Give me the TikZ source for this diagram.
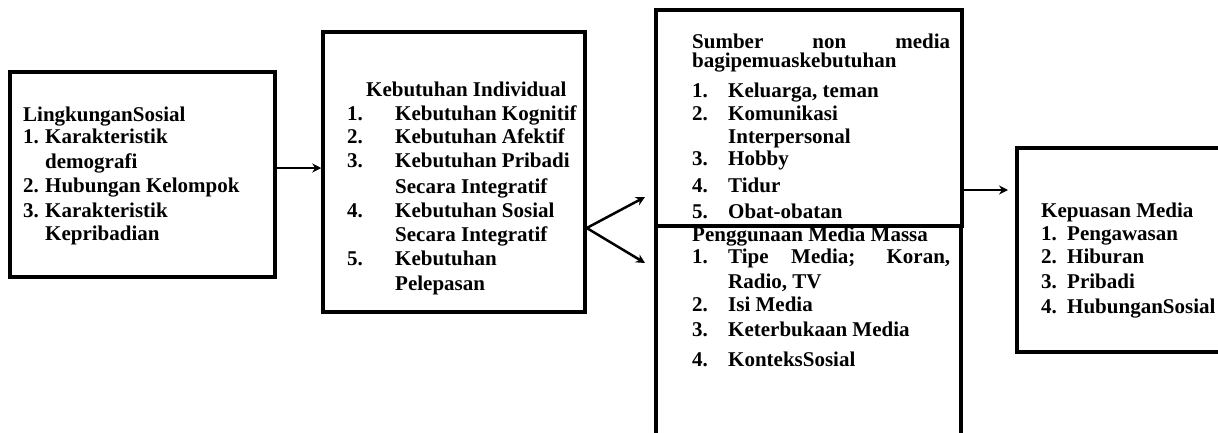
\documentclass[tikz,border=0pt]{standalone}
\usepackage{fontspec}
\setmainfont{Liberation Serif}
\usetikzlibrary{arrows.meta}
\tikzset{
  box/.style={draw, line width=3.5pt, rectangle, inner sep=0pt, fill=none},
  txt/.style={anchor=base west, inner sep=0pt, font=\fontsize{21}{24}\selectfont\bfseries},
  arr/.style={line width=2.5pt, -{Stealth[length=9pt,width=9pt]}}
}
\newcommand{\numA}[1]{\makebox[22pt][l]{#1}}
\newcommand{\numB}[1]{\makebox[48pt][l]{#1}}
\newcommand{\numC}[1]{\makebox[36pt][l]{#1}}
\newcommand{\numD}[1]{\makebox[26pt][l]{#1}}
\begin{document}
\begin{tikzpicture}[x=1pt,y=-1pt]
\useasboundingbox (0,0) rectangle (1218,432);
\clip (0,0) rectangle (1218,432);
% boxes
\node[box, minimum width=265pt, minimum height=205pt] (b1) at (142.5,174.5) {};
\node[box, minimum width=262pt, minimum height=280pt] (b2) at (454,172) {};
\node[box, minimum width=306pt, minimum height=216pt] (b3) at (809,118) {};
\node[box, minimum width=305pt, minimum height=234pt] (b4) at (808.5,343) {};
\node[box, minimum width=223pt, minimum height=204pt] (b5) at (1128.5,250) {};
% box 1 text
\node[txt] (l1a) at (23,121) {LingkunganSosial};
\node[txt] (l1b) at (23,143) {\numA{1.}Karakteristik};
\node[txt] (l1c) at (45,168) {demografi};
\node[txt] (l1d) at (23,192) {\numA{2.}Hubungan Kelompok};
\node[txt] (l1e) at (23,217) {\numA{3.}Karakteristik};
\node[txt] (l1f) at (45,240) {Kepribadian};
% box 2 text
\node[txt] (l2a) at (366,96) {Kebutuhan Individual};
\node[txt] (l2b) at (347,120) {\numB{1.}Kebutuhan Kognitif};
\node[txt] (l2c) at (347,143) {\numB{2.}Kebutuhan Afektif};
\node[txt] (l2d) at (347,167) {\numB{3.}Kebutuhan Pribadi};
\node[txt] (l2e) at (395,193) {Secara Integratif};
\node[txt] (l2f) at (347,217) {\numB{4.}Kebutuhan Sosial};
\node[txt] (l2g) at (395,241) {Secara Integratif};
\node[txt] (l2h) at (347,265) {\numB{5.}Kebutuhan};
\node[txt] (l2i) at (395,290) {Pelepasan};
% box 3 top text
\node[txt] (l3a) at (692,48) {\makebox[258pt][s]{Sumber non media}};
\node[txt] (l3b) at (692,67) {bagipemuaskebutuhan};
\node[txt] (l3c) at (692,97) {\numC{1.}Keluarga, teman};
\node[txt] (l3d) at (692,120) {\numC{2.}Komunikasi};
\node[txt] (l3e) at (728,143) {Interpersonal};
\node[txt] (l3f) at (692,165) {\numC{3.}Hobby};
\node[txt] (l3g) at (692,192) {\numC{4.}Tidur};
\node[txt] (l3h) at (692,218) {\numC{5.}Obat-obatan};
% box 3 bottom text
\node[txt] (l4a) at (692,241) {Penggunaan Media Massa};
\node[txt] (l4b) at (692,263) {\numC{1.}\makebox[222pt][s]{Tipe Media; Koran,}};
\node[txt] (l4c) at (728,288) {Radio, TV};
\node[txt] (l4d) at (692,311) {\numC{2.}Isi Media};
\node[txt] (l4e) at (692,336) {\numC{3.}Keterbukaan Media};
\node[txt] (l4f) at (692,366) {\numC{4.}KonteksSosial};
% box 4 text
\node[txt] (l5a) at (1041,217) {Kepuasan Media};
\node[txt] (l5b) at (1041,240) {\numD{1.}Pengawasan};
\node[txt] (l5c) at (1041,263) {\numD{2.}Hiburan};
\node[txt] (l5d) at (1041,288) {\numD{3.}Pribadi};
\node[txt] (l5e) at (1041,313) {\numD{4.}HubunganSosial};
% connectors
\draw[arr] ([yshift=6.5pt]b1.east) -- ([yshift=4pt]b2.west);
\coordinate (fork) at ([yshift=-56pt]b2.east);
\coordinate (t1) at (645,197);
\coordinate (t2) at (645,263);
\draw[arr] (fork) -- (t1);
\draw[arr] (fork) -- (t2);
\coordinate (t3) at (1008,190);
\draw[arr] ([yshift=-72pt]b3.east) -- (t3);
\end{tikzpicture}
\end{document}
